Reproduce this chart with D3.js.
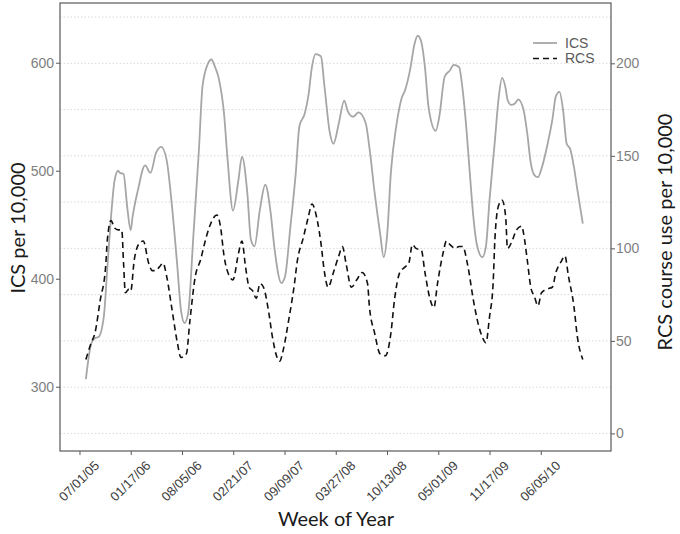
<!DOCTYPE html>
<html>
<head>
<meta charset="utf-8">
<script src="https://cdn.jsdelivr.net/npm/d3@7"></script>
<style>
  body { margin: 0; background: #fff; }
  svg { display: block; }
</style>
</head>
<body>
<svg id="chart" width="680" height="534"></svg>
<script>
// weeks are counted from the first plotted week
var startDate = Date.UTC(2005, 6, 26);

var icsWeeks = [0, 3, 5, 7, 10, 12, 14, 16, 18, 19, 21, 23, 25, 26, 29, 33, 36, 39, 42, 45, 48, 51, 53, 55, 57, 60, 63, 65, 68, 70, 72, 74, 77, 79, 82, 85, 87, 90, 92, 94, 97, 100, 103, 105, 109, 111, 114, 117, 119, 122, 124, 126, 128, 131, 133, 136, 138, 141, 144, 146, 149, 152, 156, 158, 161, 164, 166, 168, 170, 173, 176, 178, 181, 183, 185, 187, 189, 191, 195, 197, 200, 203, 205, 208, 210, 212, 214, 216, 218, 221, 223, 225, 228, 230, 232, 234, 235, 237, 239, 241, 244, 246, 248, 250, 252, 254, 257, 260, 262, 264, 266, 268, 270, 272, 274, 277];
var icsValues = [307, 340, 345, 346, 365, 411, 457, 491, 500, 498, 497, 467, 445, 457, 482, 505, 498, 516, 522, 510, 467, 411, 371, 359, 368, 442, 519, 578, 599, 603, 596, 586, 553, 510, 463, 491, 513, 479, 436, 430, 464, 487, 461, 430, 396, 402, 448, 498, 541, 553, 569, 596, 608, 606, 578, 535, 525, 544, 565, 555, 550, 554, 544, 522, 479, 442, 420, 442, 498, 541, 567, 575, 596, 616, 625, 619, 596, 559, 537, 550, 587, 593, 598, 596, 575, 541, 498, 457, 431, 420, 430, 473, 528, 566, 586, 576, 566, 561, 562, 566, 556, 535, 507, 496, 494, 502, 522, 547, 569, 573, 556, 525, 520, 504, 482, 451];

var rcsWeeks = [0, 3, 5, 8, 11, 12, 14, 16, 18, 20, 21, 22, 24, 25, 27, 30, 32, 35, 37, 39, 41, 43, 45, 48, 51, 53, 56, 58, 61, 64, 66, 69, 73, 75, 77, 80, 82, 85, 87, 89, 91, 93, 95, 97, 99, 102, 104, 108, 110, 113, 116, 118, 121, 124, 126, 129, 131, 133, 135, 138, 141, 143, 145, 148, 151, 154, 157, 158, 161, 164, 167, 170, 172, 175, 178, 180, 182, 184, 187, 189, 192, 194, 196, 199, 201, 203, 206, 208, 210, 213, 216, 219, 221, 223, 225, 227, 228, 230, 232, 234, 235, 238, 240, 243, 244, 246, 248, 250, 252, 254, 257, 260, 262, 265, 267, 269, 272, 274, 277];
var rcsValues = [40, 49, 54, 72, 90, 105, 115, 111, 110, 110, 92, 76, 78, 77, 94, 103, 104, 92, 88, 88, 90, 92, 85, 67, 49, 41, 43, 61, 85, 94, 102, 112, 118, 112, 96, 85, 83, 97, 104, 90, 79, 77, 73, 81, 79, 65, 52, 39, 45, 61, 79, 94, 105, 117, 124, 115, 103, 87, 79, 87, 96, 101, 92, 79, 83, 87, 81, 69, 54, 43, 42, 54, 72, 87, 90, 92, 102, 100, 99, 87, 72, 68, 81, 97, 104, 102, 100, 101, 101, 90, 72, 58, 52, 49, 63, 81, 105, 123, 126, 117, 100, 105, 110, 112, 108, 94, 79, 74, 69, 76, 78, 79, 87, 93, 96, 85, 69, 52, 40];

var tickLabels = ["07/01/05", "01/17/06", "08/05/06", "02/21/07", "09/09/07", "03/27/08", "10/13/08", "05/01/09", "11/17/09", "06/05/10"];
var icsTicks = [300, 400, 500, 600];
var rcsTicks = [0, 50, 100, 150, 200];
var rcsGrid = [0, 25, 50, 75, 100, 125, 150, 175, 200, 225];

var parseTick = d3.utcParse("%m/%d/%y");
var fmtTick = d3.utcFormat("%m/%d/%y");

function weekDate(w) { return new Date(startDate + w * 7 * 864e5); }

var ics = icsWeeks.map(function (w, i) { return { date: weekDate(w), value: icsValues[i] }; });
var rcs = rcsWeeks.map(function (w, i) { return { date: weekDate(w), value: rcsValues[i] }; });

var svg = d3.select("#chart");
var margin = { left: 60, right: 69, top: 3, bottom: 83 },
	width = 680 - margin.left - margin.right,
	height = 534 - margin.top - margin.bottom;

var x = d3.scaleUtc()
	.domain([new Date(Date.UTC(2005, 3, 16)), new Date(Date.UTC(2011, 2, 6))])
	.range([0, width]);
var yL = d3.scaleLinear().domain([240.5, 655.3]).range([height, 0]);
var yR = d3.scaleLinear().domain([-9.5, 232.6]).range([height, 0]);

var g = svg.append("g").attr("transform", "translate(" + margin.left + "," + margin.top + ")");

// dotted gridlines
g.append("g").selectAll("line")
	.data(rcsGrid)
	.enter().append("line")
	.attr("x1", 0).attr("x2", width)
	.attr("y1", function (d) { return yR(d); })
	.attr("y2", function (d) { return yR(d); })
	.attr("stroke", "#d9d9d9")
	.attr("stroke-dasharray", "1.5,2");

var line = function (scale) {
	return d3.line()
		.x(function (d) { return x(d.date); })
		.y(function (d) { return scale(d.value); })
		.curve(d3.curveMonotoneX);
};

g.append("path")
	.datum(ics)
	.attr("fill", "none")
	.attr("stroke", "#a6a6a6")
	.attr("stroke-width", 1.8)
	.attr("d", line(yL));

g.append("path")
	.datum(rcs)
	.attr("fill", "none")
	.attr("stroke", "#111")
	.attr("stroke-width", 1.6)
	.attr("stroke-dasharray", "6,4")
	.attr("d", line(yR));

// panel frame
g.append("rect")
	.attr("width", width).attr("height", height)
	.attr("fill", "none")
	.attr("stroke", "#595959")
	.attr("stroke-width", 1.2);

// axes
var xAxis = g.append("g")
	.attr("transform", "translate(0," + height + ")")
	.call(d3.axisBottom(x)
		.tickValues(tickLabels.map(parseTick))
		.tickFormat(fmtTick)
		.tickSize(4));
xAxis.selectAll("text")
	.attr("text-anchor", "middle")
	.attr("x", 0).attr("y", 0)
	.attr("dy", "0.35em")
	.attr("transform", "translate(-1,30) rotate(-45)");

var yAxisL = g.append("g").call(d3.axisLeft(yL).tickValues(icsTicks).tickSize(4).tickPadding(2));
var yAxisR = g.append("g").attr("transform", "translate(" + width + ",0)")
	.call(d3.axisRight(yR).tickValues(rcsTicks).tickSize(4).tickPadding(1));

[xAxis, yAxisL, yAxisR].forEach(function (a) {
	a.select(".domain").remove();
	a.selectAll(".tick line").attr("stroke", "#595959");
	a.selectAll("text")
		.attr("font-family", "'Liberation Sans', Arial, sans-serif")
		.attr("fill", "#7f7f7f");
});
yAxisL.selectAll("text").attr("font-size", 14);
yAxisR.selectAll("text").attr("font-size", 14);
xAxis.selectAll("text").attr("font-size", 13).attr("fill", "#404040");

// titles
svg.append("text")
	.attr("transform", "translate(25,228) rotate(-90)")
	.attr("text-anchor", "middle")
	.attr("font-family", "Lato, 'Open Sans', sans-serif")
	.attr("font-size", 20)
	.attr("fill", "#1a1a1a")
	.text("ICS per 10,000");

svg.append("text")
	.attr("transform", "translate(672,232) rotate(-90)")
	.attr("text-anchor", "middle")
	.attr("font-family", "Lato, 'Open Sans', sans-serif")
	.attr("font-size", 20)
	.attr("fill", "#1a1a1a")
	.text("RCS course use per 10,000");

svg.append("text")
	.attr("x", 336).attr("y", 526)
	.attr("text-anchor", "middle")
	.attr("font-family", "Lato, 'Open Sans', sans-serif")
	.attr("font-size", 20)
	.attr("fill", "#1a1a1a")
	.text("Week of Year");

// legend
var legend = svg.append("g").attr("transform", "translate(533,43)");
var legendItems = [
	{ name: "ICS", color: "#a6a6a6", dash: null, width: 1.8 },
	{ name: "RCS", color: "#111", dash: "6,4", width: 1.6 }
];
legendItems.forEach(function (d, i) {
	legend.append("line")
		.attr("x1", 0).attr("x2", 24)
		.attr("y1", i * 15.5).attr("y2", i * 15.5)
		.attr("stroke", d.color)
		.attr("stroke-width", d.width)
		.attr("stroke-dasharray", d.dash);
	legend.append("text")
		.attr("x", 32).attr("y", i * 15.5)
		.attr("dy", "0.35em")
		.attr("font-family", "'Liberation Sans', Arial, sans-serif")
		.attr("font-size", 14)
		.attr("fill", "#595959")
		.text(d.name);
});
</script>
</body>
</html>
